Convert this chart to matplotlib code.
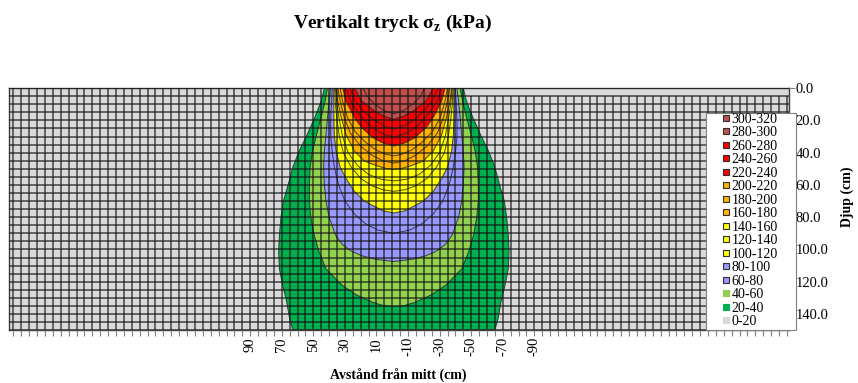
import matplotlib
matplotlib.use('Agg')
import matplotlib.pyplot as plt
from matplotlib.lines import Line2D
from matplotlib.patches import Rectangle
import numpy as np

plt.rcParams['font.family'] = ['Liberation Serif', 'DejaVu Serif']
plt.rcParams['mathtext.fontset'] = 'custom'
plt.rcParams['mathtext.rm'] = 'Liberation Serif'
plt.rcParams['mathtext.bf'] = 'Liberation Serif:bold'

# contour boundaries, (half width from centre cm, depth cm)
C20 = [(44, 0), (46, 8), (50, 18), (55, 29), (60, 39), (64, 49), (67, 60), (70, 70),
       (71.5, 80), (72.5, 91), (73, 101), (72.5, 112), (70.5, 122), (68, 132), (66, 143), (64, 150)]
C40 = [(42, 0), (43.5, 8), (46, 18), (49, 29), (51.5, 39), (53, 49), (53.5, 60), (53.5, 70),
       (52.5, 80), (50.5, 91), (47.5, 101), (43, 112), (33, 122), (24, 128), (14, 132.5),
       (7, 134.7), (0, 135.5)]
C60 = [(40, 0), (41, 8), (42, 18), (43, 29), (44, 39), (44.5, 49), (44, 60), (43, 70),
       (41, 80), (37, 91), (32.5, 97), (27, 101), (20, 104), (12, 106), (0, 107.5)]
C80 = [(39, 0), (39.5, 10), (40, 20), (40, 30), (39, 40), (37.5, 50), (35, 60), (31, 70),
       (25, 78), (18, 84), (10, 88), (0, 90)]
C100 = [(38, 0), (38, 10), (38, 18), (37.7, 29), (36.6, 39), (34, 49), (30.3, 56), (25, 64),
        (18.7, 70), (12, 73.5), (7, 76), (0, 77.4)]
C120 = [(37.5, 0), (37, 10), (36, 20), (34.5, 30), (32, 40), (27, 49), (21, 56), (14, 60.5),
        (7, 63), (0, 64)]
C140 = [(37, 0), (36, 10), (34.5, 20), (32.5, 30), (29, 40), (23, 48), (16, 53.5), (8, 56.5),
        (0, 57.5)]
C160 = [(36.6, 0), (35.6, 8), (33.4, 18), (30.3, 29), (25, 39), (18.7, 45.2), (10.3, 48.3),
        (5, 49.8), (0, 50.4)]
C180 = [(35.5, 0), (34, 8), (31.5, 18), (27.5, 28), (21, 36), (14, 41.5), (7, 45), (0, 46.5)]
C200 = [(34, 0), (32.5, 8), (29.5, 18), (24.5, 27), (18, 33.5), (11, 38.5), (5, 41), (0, 42)]
C220 = [(32.4, 0), (30.3, 8), (25, 18.2), (20.4, 24.5), (13.4, 30.7), (7, 34), (0, 35.9)]
C240 = [(30, 0), (27.5, 8), (22, 16), (16, 22.5), (9, 27.5), (0, 30.5)]
C260 = [(28, 0), (25, 7), (19.5, 14), (13, 19.5), (6, 23.5), (0, 25.4)]
C280 = [(25, 0), (20.4, 7.9), (12.3, 14.1), (6, 17.5), (0, 19.3)]
C300 = [(19.5, 0), (17, 5), (12, 10), (6, 14), (0, 16)]

CENTRE = -1  # cm, centre of load on the distance axis

LEVELS = [20, 40, 60, 80, 100, 120, 140, 160, 180, 200, 220, 240, 260, 280, 300]
CURVES = [C20, C40, C60, C80, C100, C120, C140, C160, C180, C200, C220, C240, C260, C280, C300]

BANDS = ['0-20', '20-40', '40-60', '60-80', '80-100', '100-120', '120-140', '140-160',
         '160-180', '180-200', '200-220', '220-240', '240-260', '260-280', '280-300', '300-320']
BAND_COLORS = ['#D9D9D9', '#00B050', '#92D050', '#9999FF', '#9999FF', '#FFFF00', '#FFFF00',
               '#FFFF00', '#FFB300', '#FFB300', '#FFB300', '#FF0000', '#FF0000', '#FF0000',
               '#C0504D', '#C0504D']

X_LABELS = [90, 70, 50, 30, 10, -10, -30, -50, -70, -90]
Y_LABELS = [0, 20, 40, 60, 80, 100, 120, 140]

fig = plt.figure(figsize=(8.58, 3.83), dpi=100)
ax = fig.add_axes([0.011, 0.138, 0.908, 0.632])
ax.set_facecolor(BAND_COLORS[0])

for i, curve in enumerate(CURVES):
    hw = np.array([p[0] for p in curve])
    d = np.array([p[1] for p in curve])
    xs = np.concatenate([CENTRE + hw, (CENTRE - hw)[::-1]])
    ds = np.concatenate([d, d[::-1]])
    ax.fill(xs, ds, color=BAND_COLORS[i + 1], lw=0, zorder=2)
    ax.plot(xs, ds, color='#202020', lw=0.7, alpha=0.8, zorder=4)

ax.set_xlim(242.5, -251)
ax.set_ylim(150, 0)

# grid: every column/row of the 5 cm mesh; top row right of the load has no column lines
xt = np.arange(240, -251, -5)
top = np.where(xt < -47, 5, 0)
ax.vlines(xt, top, 150, color='#111111', lw=1.1, alpha=0.75, zorder=5)
ax.set_yticks(np.arange(0, 151, 5), minor=True)
ax.grid(True, axis='y', which='both', color='#111111', lw=1.1, alpha=0.75, zorder=5)
ax.set_axisbelow(False)

ax.set_xticks(xt)
ax.set_xticklabels([str(v) if v in X_LABELS else '' for v in xt], rotation=90, fontsize=10.5)
ax.set_yticks(Y_LABELS)
ax.set_yticklabels(['%.1f' % v for v in Y_LABELS], fontsize=10.5)
ax.yaxis.tick_right()
ax.tick_params(axis='x', direction='out', length=4, width=0.8, color='#808080', pad=1)
ax.tick_params(axis='y', which='both', direction='out', length=4, width=0.8, color='#808080', pad=1)
ax.tick_params(axis='y', which='minor', length=0)
for s in ax.spines.values():
    s.set_color('#404040')
    s.set_linewidth(1.0)

# legend frame as Excel draws it (wide, with right padding)
fig.patches.append(Rectangle((706 / 858, 1 - 329.5 / 383), 90 / 858, 216.5 / 383,
                             transform=fig.transFigure, facecolor='white',
                             edgecolor='#808080', lw=0.8, zorder=3))

handles = []
for lab, col in zip(BANDS[::-1], BAND_COLORS[::-1]):
    edged = lab not in ('0-20', '20-40', '40-60')
    handles.append(Line2D([], [], ls='none', marker='s', markersize=4.6,
                          markerfacecolor=col,
                          markeredgecolor='#303030' if edged else col,
                          markeredgewidth=0.8))
leg = fig.legend(handles, BANDS[::-1], loc='upper left',
                 bbox_to_anchor=(721.8 / 858, 1 - 112.8 / 383), borderaxespad=0,
                 fontsize=10, labelspacing=0.036, handlelength=0.6, handletextpad=0.115,
                 borderpad=0, frameon=False)
leg.set_zorder(6)

fig.text(0.4575, 0.94, r'Vertikalt tryck σ$_\mathbf{z}$ (kPa)', ha='center', va='center',
         fontsize=14, fontweight='bold')
fig.text(0.464, 0.018, 'Avstånd från mitt (cm)', ha='center', va='center',
         fontsize=10, fontweight='bold')
fig.text(0.988, 0.486, 'Djup (cm)', ha='center', va='center', rotation=90,
         fontsize=10, fontweight='bold')

fig.savefig('out.png', dpi=100)
